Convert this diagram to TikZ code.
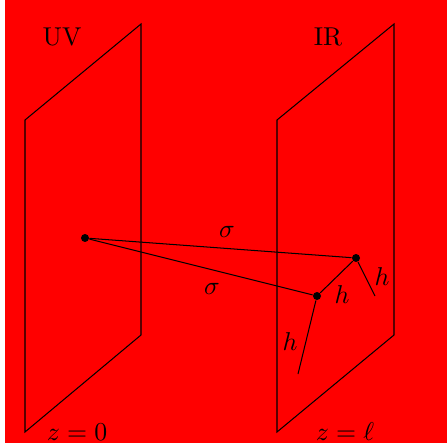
\documentclass[tikz,border=0pt]{standalone}
\begin{document}
\begin{tikzpicture}[x=0.3876pt,y=-0.3876pt,
  plane/.style={draw=black,line width=0.4pt},
  wire/.style={draw=black,line width=0.4pt},
  vtx/.style={circle,fill=black,inner sep=0pt,minimum size=3.1pt},
  lbl/.style={inner sep=0pt}]
\useasboundingbox (0,0) rectangle (447,447);
\fill[red] (5,0) rectangle (447,443);
% planes
\draw[plane] (25,120) -- (141,24) -- (141,335) -- (25,432) -- cycle;
\draw[plane] (277,120) -- (394,24) -- (394,335) -- (277,432) -- cycle;
% labels
\node[lbl] (uv) at (62,37) {UV};
\node[lbl] (ir) at (328,37) {IR};
\node[lbl] (z0) at (77,432) {$z=0$};
\node[lbl] (zl) at (345,432) {$z=\ell$};
% vertices
\node[vtx] (a) at (85,238) {};
\node[vtx] (b) at (356,258) {};
\node[vtx] (c) at (317,296) {};
\coordinate (hb) at (375,296);
\coordinate (hc) at (298,374);
\draw[wire] (a) -- (b);
\draw[wire] (a) -- (c);
\draw[wire] (c) -- (b);
\draw[wire] (b) -- (hb);
\draw[wire] (c) -- (hc);
\node[lbl] (s1) at (227,232) {$\sigma$};
\node[lbl] (s2) at (212,289) {$\sigma$};
\node[lbl] (h1) at (382,277) {$h$};
\node[lbl] (h2) at (342,295) {$h$};
\node[lbl] (h3) at (290,342) {$h$};
\end{tikzpicture}
\end{document}
